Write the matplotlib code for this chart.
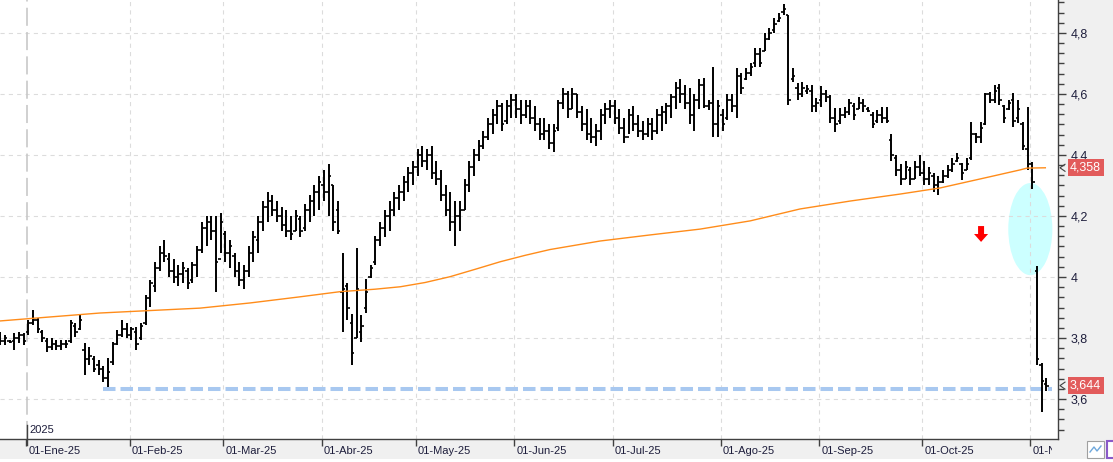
import numpy as np
import matplotlib
matplotlib.use("Agg")
import matplotlib.pyplot as plt
from matplotlib.patches import Ellipse, Polygon, Rectangle
from matplotlib.ticker import MultipleLocator, FuncFormatter
import matplotlib.transforms as mtransforms

plt.rcParams['font.family'] = ['Liberation Sans', 'DejaVu Sans']
plt.rcParams['lines.scale_dashes'] = False

# ---------------- data (trading-day index, first bar = -6) ----------------
first_idx = -6

dec_h = [3.821, 3.810, 3.793, 3.816, 3.821, 3.816]
dec_l = [3.777, 3.777, 3.783, 3.761, 3.783, 3.777]
dec_o = [3.800, 3.790, 3.790, 3.790, 3.800, 3.810]
dec_c = [3.790, 3.800, 3.788, 3.800, 3.810, 3.790]

jan_h = [3.859, 3.892, 3.865, 3.826, 3.799, 3.799, 3.793, 3.793, 3.793, 3.859, 3.848,
         3.875, 3.783, 3.771, 3.741, 3.728, 3.708, 3.733, 3.788, 3.826, 3.859, 3.848]
jan_l = [3.810, 3.843, 3.816, 3.788, 3.755, 3.761, 3.761, 3.761, 3.766, 3.783, 3.804,
         3.826, 3.679, 3.711, 3.690, 3.679, 3.657, 3.640, 3.711, 3.777, 3.804, 3.799]
jan_o = [3.820, 3.850, 3.860, 3.820, 3.790, 3.770, 3.780, 3.775, 3.780, 3.790, 3.840,
         3.830, 3.760, 3.730, 3.730, 3.710, 3.700, 3.670, 3.720, 3.780, 3.810, 3.830]
jan_c = [3.850, 3.860, 3.830, 3.800, 3.770, 3.780, 3.775, 3.780, 3.780, 3.850, 3.820,
         3.860, 3.730, 3.740, 3.700, 3.700, 3.670, 3.690, 3.780, 3.810, 3.830, 3.810]

feb_h = [3.837, 3.837, 3.848, 3.941, 3.990, 4.05, 4.10, 4.12, 4.08, 4.06, 4.04,
         4.05, 4.03, 4.05, 4.10, 4.18, 4.20, 4.20, 4.20, 4.21]
feb_l = [3.793, 3.761, 3.793, 3.843, 3.903, 3.95, 4.02, 4.05, 4.00, 3.98, 3.97,
         3.98, 3.96, 3.98, 4.00, 4.08, 4.10, 4.12, 3.95, 4.08]
feb_o = [3.810, 3.820, 3.800, 3.850, 3.930, 3.97, 4.03, 4.08, 4.06, 4.02, 4.00,
         4.01, 4.02, 3.99, 4.04, 4.09, 4.16, 4.18, 4.15, 4.06]
feb_c = [3.830, 3.780, 3.840, 3.930, 3.980, 4.03, 4.08, 4.07, 4.02, 4.00, 4.01,
         4.03, 3.98, 4.04, 4.09, 4.16, 4.18, 4.15, 4.05, 4.18]

mar_h = [4.15, 4.12, 4.08, 4.05, 4.04, 4.10, 4.15, 4.20, 4.25, 4.28, 4.27,
         4.25, 4.23, 4.22, 4.20, 4.22, 4.20, 4.24, 4.27, 4.30, 4.33]
mar_l = [4.05, 4.03, 4.00, 3.97, 3.96, 4.00, 4.05, 4.08, 4.15, 4.18, 4.20,
         4.18, 4.15, 4.13, 4.12, 4.15, 4.13, 4.15, 4.18, 4.20, 4.22]
mar_o = [4.14, 4.08, 4.07, 4.02, 3.99, 4.02, 4.08, 4.12, 4.18, 4.23, 4.25,
         4.22, 4.20, 4.17, 4.15, 4.15, 4.19, 4.16, 4.22, 4.25, 4.28]
mar_c = [4.08, 4.10, 4.02, 3.99, 4.02, 4.08, 4.13, 4.18, 4.23, 4.25, 4.22,
         4.20, 4.17, 4.15, 4.14, 4.20, 4.15, 4.22, 4.25, 4.28, 4.31]

apr_h = [4.35, 4.37, 4.30, 4.25, 4.08, 3.98, 3.88, 4.095, 3.875, 3.993, 4.04,
         4.134, 4.18, 4.22, 4.25, 4.28, 4.30, 4.33, 4.36, 4.38]
apr_l = [4.25, 4.20, 4.15, 4.14, 3.82, 3.86, 3.71, 3.80, 3.787, 3.882, 3.997,
         4.04, 4.10, 4.13, 4.15, 4.20, 4.22, 4.25, 4.28, 4.30]
apr_o = [4.30, 4.28, 4.30, 4.22, 3.95, 3.97, 3.85, 3.80, 3.82, 3.90, 4.00,
         4.05, 4.12, 4.16, 4.20, 4.22, 4.26, 4.28, 4.31, 4.34]
apr_c = [4.28, 4.33, 4.18, 4.15, 3.96, 3.90, 3.75, 3.96, 3.84, 3.95, 4.03,
         4.12, 4.16, 4.20, 4.22, 4.26, 4.28, 4.31, 4.34, 4.36]

may_h = [4.42, 4.43, 4.42, 4.43, 4.38, 4.35, 4.30, 4.28, 4.25, 4.25, 4.32,
         4.38, 4.42, 4.45, 4.48, 4.52, 4.55, 4.58, 4.57, 4.58, 4.60]
may_l = [4.33, 4.36, 4.35, 4.32, 4.30, 4.25, 4.20, 4.15, 4.10, 4.15, 4.22,
         4.28, 4.33, 4.38, 4.42, 4.45, 4.47, 4.50, 4.48, 4.50, 4.52]
may_o = [4.36, 4.40, 4.38, 4.40, 4.34, 4.32, 4.27, 4.22, 4.18, 4.20, 4.22,
         4.30, 4.36, 4.40, 4.43, 4.46, 4.50, 4.53, 4.56, 4.51, 4.56]
may_c = [4.40, 4.38, 4.40, 4.34, 4.32, 4.27, 4.22, 4.18, 4.20, 4.22, 4.30,
         4.36, 4.40, 4.43, 4.46, 4.50, 4.53, 4.56, 4.50, 4.56, 4.58]

jun_h = [4.60, 4.58, 4.58, 4.58, 4.56, 4.52, 4.52, 4.50, 4.50, 4.58, 4.62,
         4.61, 4.62, 4.60, 4.56, 4.55, 4.52, 4.50, 4.55, 4.57, 4.58]
jun_l = [4.52, 4.50, 4.52, 4.50, 4.48, 4.45, 4.45, 4.42, 4.41, 4.48, 4.55,
         4.52, 4.55, 4.52, 4.48, 4.45, 4.44, 4.43, 4.45, 4.50, 4.52]
jun_o = [4.58, 4.55, 4.53, 4.56, 4.52, 4.50, 4.47, 4.48, 4.44, 4.49, 4.57,
         4.60, 4.55, 4.60, 4.54, 4.50, 4.47, 4.46, 4.48, 4.53, 4.55]
jun_c = [4.55, 4.53, 4.56, 4.52, 4.50, 4.47, 4.48, 4.44, 4.48, 4.57, 4.60,
         4.55, 4.60, 4.54, 4.50, 4.47, 4.46, 4.48, 4.53, 4.55, 4.56]

jul_h = [4.58, 4.55, 4.52, 4.55, 4.56, 4.53, 4.51, 4.52, 4.52, 4.55, 4.56, 4.57,
         4.60, 4.64, 4.65, 4.63, 4.62, 4.60, 4.65, 4.652, 4.58, 4.69, 4.58]
jul_l = [4.50, 4.47, 4.44, 4.47, 4.48, 4.46, 4.45, 4.46, 4.45, 4.47, 4.48, 4.50,
         4.52, 4.55, 4.57, 4.55, 4.50, 4.48, 4.55, 4.554, 4.548, 4.46, 4.46]
jul_o = [4.56, 4.52, 4.49, 4.46, 4.53, 4.50, 4.48, 4.47, 4.50, 4.48, 4.53, 4.54,
         4.56, 4.59, 4.62, 4.60, 4.57, 4.53, 4.58, 4.63, 4.56, 4.57, 4.50]
jul_c = [4.52, 4.49, 4.46, 4.53, 4.50, 4.48, 4.47, 4.50, 4.48, 4.53, 4.54, 4.56,
         4.59, 4.62, 4.60, 4.57, 4.53, 4.58, 4.63, 4.56, 4.57, 4.50, 4.56]

aug_h = [4.55, 4.60, 4.60, 4.685, 4.67, 4.685, 4.70, 4.75, 4.75, 4.80, 4.815,
         4.85, 4.865, 4.895, 4.86, 4.685, 4.636, 4.64, 4.63, 4.63, 4.587]
aug_l = [4.48, 4.515, 4.54, 4.52, 4.60, 4.646, 4.66, 4.69, 4.69, 4.74, 4.777,
         4.80, 4.836, 4.86, 4.564, 4.64, 4.58, 4.59, 4.60, 4.54, 4.54]
aug_o = [4.53, 4.52, 4.58, 4.56, 4.66, 4.65, 4.67, 4.70, 4.73, 4.74, 4.78,
         4.81, 4.84, 4.87, 4.86, 4.65, 4.62, 4.60, 4.61, 4.61, 4.56]
aug_c = [4.50, 4.58, 4.56, 4.66, 4.62, 4.67, 4.69, 4.73, 4.70, 4.78, 4.80,
         4.83, 4.85, 4.88, 4.58, 4.66, 4.60, 4.62, 4.615, 4.56, 4.57]

sep_h = [4.626, 4.613, 4.597, 4.554, 4.554, 4.557, 4.584, 4.57, 4.59, 4.585, 4.557,
         4.54, 4.547, 4.557, 4.557, 4.47, 4.40, 4.37, 4.38, 4.36, 4.38, 4.40]
sep_l = [4.557, 4.574, 4.505, 4.475, 4.50, 4.52, 4.53, 4.515, 4.55, 4.54, 4.54,
         4.49, 4.505, 4.505, 4.505, 4.38, 4.33, 4.30, 4.32, 4.30, 4.32, 4.33]
sep_o = [4.58, 4.60, 4.59, 4.52, 4.51, 4.53, 4.54, 4.56, 4.55, 4.57, 4.55,
         4.53, 4.51, 4.53, 4.52, 4.45, 4.39, 4.35, 4.32, 4.35, 4.32, 4.36]
sep_c = [4.60, 4.59, 4.52, 4.50, 4.53, 4.54, 4.57, 4.53, 4.57, 4.56, 4.545,
         4.50, 4.53, 4.52, 4.51, 4.40, 4.35, 4.32, 4.36, 4.32, 4.36, 4.34]

oct_h = [4.38, 4.36, 4.34, 4.33, 4.35, 4.367, 4.39, 4.406, 4.374, 4.39, 4.508, 4.472,
         4.508, 4.603, 4.607, 4.63, 4.633, 4.564, 4.58, 4.603, 4.58, 4.508, 4.557]
oct_l = [4.30, 4.30, 4.28, 4.27, 4.308, 4.325, 4.344, 4.377, 4.318, 4.35, 4.384, 4.44,
         4.44, 4.498, 4.57, 4.57, 4.564, 4.505, 4.548, 4.492, 4.505, 4.416, 4.35]
oct_o = [4.34, 4.32, 4.33, 4.30, 4.31, 4.33, 4.35, 4.38, 4.37, 4.35, 4.39, 4.47,
         4.46, 4.50, 4.60, 4.58, 4.62, 4.56, 4.55, 4.58, 4.52, 4.50, 4.42]
oct_c = [4.32, 4.34, 4.30, 4.31, 4.33, 4.35, 4.37, 4.39, 4.34, 4.37, 4.47, 4.46,
         4.49, 4.60, 4.58, 4.61, 4.58, 4.52, 4.57, 4.51, 4.55, 4.43, 4.37]

nov_h = [4.377, 4.036, 3.718, 3.669]
nov_l = [4.290, 3.710, 3.558, 3.627]
nov_o = [4.370, 4.020, 3.710, 3.650]
nov_c = [4.310, 3.730, 3.660, 3.644]

# 200-session moving average read at sampled bars
ma_idx = [-6.0, 4.6, 15.3, 25.9, 36.6, 47.3, 57.9, 66.5, 73.9, 79.3, 84.6, 89.9, 95.2,
          100.6, 105.9, 111.2, 121.9, 132.6, 143.2, 153.9, 164.5, 175.2, 185.9, 194.4,
          205.1, 211.4, 212.9, 216.8]
ma_val = [3.856, 3.869, 3.882, 3.890, 3.898, 3.915, 3.935, 3.952, 3.960, 3.968, 3.982,
          4.001, 4.025, 4.050, 4.071, 4.090, 4.118, 4.138, 4.157, 4.184, 4.223, 4.249,
          4.272, 4.292, 4.329, 4.351, 4.357, 4.358]

month_labels = ['01-Ene-25', '01-Feb-25', '01-Mar-25', '01-Abr-25', '01-May-25',
                '01-Jun-25', '01-Jul-25', '01-Ago-25', '01-Sep-25', '01-Oct-25', '01-Nov-25']
month_start = [0, 22, 42, 63, 83, 104, 125, 148, 169, 191, 214]

y_ticks = [3.6, 3.8, 4.0, 4.2, 4.4, 4.6, 4.8]
support_level = 3.632
support_from = 15.9
ma_last = 4.358
last_close = 3.644

highs = dec_h + jan_h + feb_h + mar_h + apr_h + may_h + jun_h + jul_h + aug_h + sep_h + oct_h + nov_h
lows = dec_l + jan_l + feb_l + mar_l + apr_l + may_l + jun_l + jul_l + aug_l + sep_l + oct_l + nov_l
opens = dec_o + jan_o + feb_o + mar_o + apr_o + may_o + jun_o + jul_o + aug_o + sep_o + oct_o + nov_o
closes = dec_c + jan_c + feb_c + mar_c + apr_c + may_c + jun_c + jul_c + aug_c + sep_c + oct_c + nov_c

# ---------------- figure ----------------
W, H = 1113, 462
fig = plt.figure(figsize=(W / 100, H / 100), dpi=100)
fig.patch.set_facecolor('#F0F0F0')
ax = fig.add_axes([0, 23 / H, 1058 / W, 439 / H])
ax.set_facecolor('white')

x = np.arange(first_idx, first_idx + len(highs))
ax.set_xlim(-6.03, 219.5)
ax.set_ylim(3.469, 4.908)

# grid
for v in y_ticks:
    ax.axhline(v, color='#DCDCDC', lw=0.8, dashes=(3, 3), zorder=0.5)
for m in month_start[1:]:
    ax.axvline(m - 0.4, color='#DCDCDC', lw=0.8, dashes=(3, 3), zorder=0.5)
ax.axvline(-0.2, color='#C8C8C8', lw=1.2, dashes=(13, 4.5), zorder=0.5)

# ellipse highlight
ax.add_patch(Ellipse((213.6, 4.157), width=9.4, height=0.302,
                     facecolor='#CCFFFF', edgecolor='none', zorder=0.3))

# support dashed line
ax.plot([support_from, 218.3], [support_level, support_level], color='#A8C8F0',
        lw=2.9, linestyle=(0, (9, 3.6)), solid_capstyle='butt', zorder=1.5)

# OHLC bars
ax.vlines(x, lows, highs, color='black', lw=1.4, zorder=2)
ax.hlines(opens, x - 0.5, x, color='black', lw=1.2, zorder=2)
ax.hlines(closes, x, x + 0.5, color='black', lw=1.2, zorder=2)

# moving average
ax.plot(ma_idx, ma_val, color='#FF8C1A', lw=1.0, zorder=3)

# red arrow
c, top, mid, tip = 203.1, 4.167, 4.141, 4.115
ax.add_patch(Polygon([(c - 0.64, top), (c + 0.64, top), (c + 0.64, mid), (c + 1.5, mid),
                      (c, tip), (c - 1.5, mid), (c - 0.64, mid)],
                     closed=True, facecolor='#FF0000', edgecolor='none', zorder=4))

# spines / axes
for s in ['left', 'top']:
    ax.spines[s].set_visible(False)
for s in ['right', 'bottom']:
    ax.spines[s].set_color('#404040')
    ax.spines[s].set_linewidth(1.0)

ax.yaxis.tick_right()
ax.set_yticks(y_ticks)
ax.yaxis.set_minor_locator(MultipleLocator(0.2 / 6))
ax.yaxis.set_major_formatter(FuncFormatter(lambda v, p: ('%g' % round(v, 3)).replace('.', ',')))
ax.tick_params(axis='y', which='major', length=6, width=1, color='#404040', direction='out',
               labelsize=9, labelcolor='#1E1E3C', pad=3)
ax.tick_params(axis='y', which='minor', length=4, width=1, color='#404040', direction='out')

ax.set_xticks([m - 0.4 for m in month_start])
ax.set_xticklabels([])
ax.tick_params(axis='x', which='major', length=5, width=1, color='#404040', direction='out')

trans_x = mtransforms.blended_transform_factory(ax.transData, ax.transAxes)
for m, lab in zip(month_start, month_labels):
    t = ax.text(m - 0.4 + 0.45, -12 / 439, lab, transform=trans_x, ha='left', va='center',
                fontsize=8, color='#1E1E3C')
    t.set_clip_path(Rectangle((0, 0), 1052 / W, 1, transform=fig.transFigure))
    t.set_clip_on(True)

ax.text(0.25, 9 / 439, '2025', transform=trans_x, ha='left', va='center',
        fontsize=8, color='#1E1E3C')
ax.plot([-0.2, -0.2], [-6 / 439, 14 / 439], transform=trans_x, color='#404040', lw=1,
        clip_on=False)

# right-side value labels
trans_y = mtransforms.blended_transform_factory(ax.transAxes, ax.transData)
for v in [ma_last, last_close]:
    ax.text(1 + 12 / 1058, v, ('%.3f' % v).replace('.', ','), transform=trans_y,
            ha='left', va='center', fontsize=9, color='white', clip_on=False,
            bbox=dict(boxstyle='square,pad=0.2', fc='#E25B5B', ec='none'))
    d = 3.5 / 305
    ax.plot([1 + 7 / 1058, 1 + 2 / 1058, 1 + 7 / 1058], [v + d, v, v - d],
            transform=trans_y, color='#404040', lw=0.8, clip_on=False)

# bottom white strip and small icons
fig.add_artist(Rectangle((0, 0), 1, 3 / H, transform=fig.transFigure,
                         facecolor='white', edgecolor='none'))
fig.add_artist(Rectangle((1087 / W, 4 / H), 17 / W, 17 / H, transform=fig.transFigure,
                         facecolor='white', edgecolor='#A0A0A0', lw=0.8))
fig.add_artist(plt.Line2D([1090 / W, 1094 / W, 1097 / W, 1101 / W],
                          [10 / H, 15 / H, 11 / H, 16 / H], transform=fig.transFigure,
                          color='#6FA8DC', lw=1))
fig.add_artist(Rectangle((1107 / W, 4 / H), 10 / W, 17 / H, transform=fig.transFigure,
                         facecolor='white', edgecolor='#8A5AC8', lw=1.5))

fig.savefig('out.png', dpi=100, facecolor=fig.get_facecolor())
